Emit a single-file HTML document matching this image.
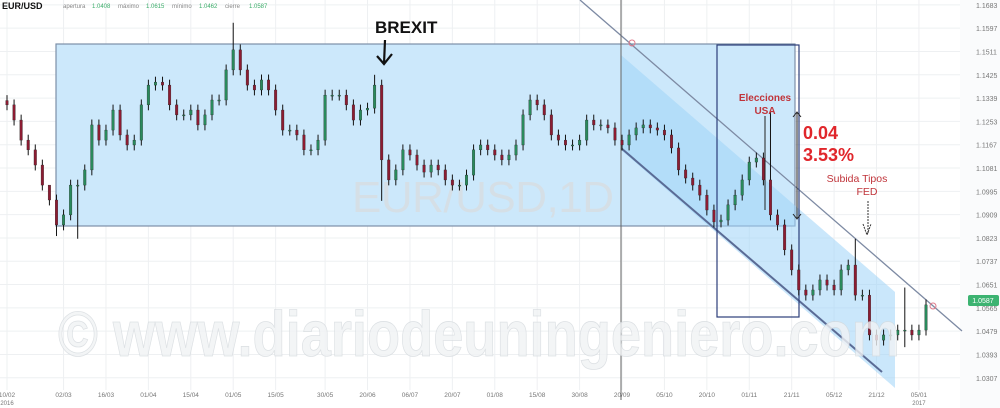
<!DOCTYPE html>
<html><head><meta charset="utf-8"><style>
body{margin:0;background:#fff;width:1000px;height:408px;overflow:hidden}
svg{display:block;font-family:"Liberation Sans",sans-serif}
</style></head><body>
<svg id="chart" width="1000" height="408" viewBox="0 0 1000 408">
  <rect x="960" y="0" width="40" height="408" fill="#fafbfc"/>
  <g id="grid"></g>
  <rect x="56" y="44" width="739" height="182" fill="#cce8fb" stroke="#7d8fa8" stroke-width="1.2"/>
  <polygon points="621,55 895,292 895,388 621,150" fill="#9fd3f7" opacity="0.55"/>
  <line x1="580" y1="0" x2="962" y2="331" stroke="#7d8aa3" stroke-width="1.3"/>
  <line x1="621" y1="148" x2="882" y2="372" stroke="#5a6b95" stroke-width="2"/>
  <circle cx="632" cy="43" r="3" fill="none" stroke="#e07a8a"/>
  <circle cx="933" cy="306" r="3" fill="none" stroke="#e07a8a"/>
  <line x1="621" y1="0" x2="621" y2="400" stroke="#666" stroke-width="1"/>
  <rect x="717" y="45" width="82" height="272" fill="none" stroke="#2c3e7a" stroke-width="1.2"/>
  <text x="352" y="212" font-size="44" fill="#d8dde2" opacity="0.8" textLength="262">EUR/USD,1D</text>
  <g id="candles"></g>
  <text x="58" y="356" font-size="64" font-weight="bold" fill="#f1f3f5" opacity="0.8" stroke="#d5dade" stroke-width="0.8" textLength="842" lengthAdjust="spacingAndGlyphs">© www.diariodeuningeniero.com</text>
  <text x="375" y="33" font-size="17" font-weight="bold" fill="#111">BREXIT</text>
  <path d="M385 40 L384 64 M377 56 L384 64 L392 54" stroke="#111" stroke-width="2.2" fill="none"/>
  <text x="765" y="101" font-size="10" font-weight="bold" fill="#c0343a" text-anchor="middle">Elecciones</text>
  <text x="765" y="114" font-size="10" font-weight="bold" fill="#c0343a" text-anchor="middle">USA</text>
  <line x1="765" y1="116" x2="765" y2="210" stroke="#222" stroke-width="1"/>
  <path d="M797 113 L797 218 M793 117 L797 112 L801 117 M793 214 L797 219 L801 214" stroke="#222" fill="none"/>
  <text x="803" y="139" font-size="18" font-weight="bold" fill="#e0262b">0.04</text>
  <text x="803" y="161" font-size="18" font-weight="bold" fill="#e0262b">3.53%</text>
  <text x="857" y="182" font-size="10.5" fill="#c0343a" text-anchor="middle">Subida Tipos</text>
  <text x="867" y="195" font-size="10.5" fill="#c0343a" text-anchor="middle">FED</text>
  <path d="M868 201 L868 234 M863 224 L867 235 L871 224" stroke="#333" fill="none" stroke-dasharray="2,1"/>
  <text x="2" y="9" font-size="9" font-weight="bold" fill="#111">EUR/USD</text>
  <g font-size="6">
    <text x="63" y="8" fill="#888">apertura</text><text x="92" y="8" fill="#3cae6a">1.0408</text>
    <text x="118" y="8" fill="#888">máximo</text><text x="146" y="8" fill="#3cae6a">1.0615</text>
    <text x="172" y="8" fill="#888">mínimo</text><text x="199" y="8" fill="#3cae6a">1.0462</text>
    <text x="225" y="8" fill="#888">cierre</text><text x="249" y="8" fill="#3cae6a">1.0587</text>
  </g>
  <g id="yaxis"></g>
  <g id="xaxis"></g>
  <rect x="968" y="295" width="31" height="11" rx="2" fill="#3cb371"/>
  <text x="983" y="303" font-size="7" fill="#fff" text-anchor="middle">1.0587</text>
</svg>
<script>
const priceTicks = [1.1683,1.1597,1.1511,1.1425,1.1339,1.1253,1.1167,1.1081,1.0995,1.0909,1.0823,1.0737,1.0651,1.0565,1.0479,1.0393,1.0307];
const dateLabels = ["10/02","02/03","16/03","01/04","15/04","01/05","15/05","30/05","20/06","06/07","20/07","01/08","15/08","30/08","20/09","05/10","20/10","01/11","21/11","05/12","21/12","05/01"];
const dateLabelIndex = [0,8,14,20,26,32,38,45,51,57,63,69,75,81,87,93,99,105,111,117,123,129];
const firstOpen = 1.1330;
const closes = [1.1314,1.1258,1.1184,1.1148,1.1092,1.1018,1.0963,1.0871,1.0908,1.1018,1.1018,1.1074,1.1240,1.1184,1.1221,1.1295,1.1203,1.1166,1.1184,1.1314,1.1387,1.1398,1.1387,1.1314,1.1277,1.1277,1.1295,1.1240,1.1277,1.1332,1.1332,1.1443,1.1517,1.1443,1.1387,1.1369,1.1406,1.1369,1.1295,1.1221,1.1221,1.1203,1.1148,1.1148,1.1184,1.1350,1.1350,1.1350,1.1314,1.1258,1.1295,1.1302,1.1387,1.1111,1.1037,1.1074,1.1148,1.1129,1.1092,1.1066,1.1092,1.1074,1.1037,1.1018,1.1018,1.1055,1.1148,1.1166,1.1148,1.1129,1.1111,1.1129,1.1166,1.1277,1.1332,1.1314,1.1277,1.1203,1.1184,1.1166,1.1166,1.1184,1.1258,1.1240,1.1240,1.1229,1.1184,1.1166,1.1203,1.1229,1.1240,1.1229,1.1221,1.1203,1.1155,1.1074,1.1044,1.1018,1.0981,1.0926,1.0882,1.0889,1.0945,1.0981,1.1037,1.1103,1.1118,1.1037,1.0908,1.0871,1.0779,1.0705,1.0631,1.0612,1.0631,1.0668,1.0649,1.0631,1.0705,1.0723,1.0612,1.0612,1.0465,1.0446,1.0465,1.0465,1.0483,1.0483,1.0465,1.0483,1.0576];
const wickHighs = {6:1.0985,32:1.1617,52:1.1425,108:1.1295,120:1.0820,127:1.0640};
const wickLows = {7:1.0830,10:1.0820,53:1.0960,127:1.0420};

const NS="http://www.w3.org/2000/svg";
const y=p=>(1.1701-p)/0.000369;
const x=i=>7+i*(926-7)/(closes.length-1);
function mk(tag,attrs,parent){const e=document.createElementNS(NS,tag);for(const k in attrs)e.setAttribute(k,attrs[k]);parent.appendChild(e);return e;}
const grid=document.getElementById('grid'),ya=document.getElementById('yaxis'),xa=document.getElementById('xaxis'),cg=document.getElementById('candles');
priceTicks.forEach(p=>{
  const l=mk('line',{x1:0,x2:960,y1:y(p),y2:y(p),stroke:'#eef0f2'},grid);
  
  
  const t=mk('text',{x:976,y:y(p)+3,'font-size':7,fill:'#777'},ya);t.textContent=p.toFixed(4);
  
  
});
dateLabels.forEach((d,k)=>{
  const xx=x(dateLabelIndex[k]);
  const l=mk('line',{x1:xx,x2:xx,y1:0,y2:390,stroke:'#eef0f2'},grid);
  
  
  const t=mk('text',{x:xx,y:397,'font-size':6.5,fill:'#777','text-anchor':'middle'},xa);t.textContent=d;
  
  
});
[[0,'2016'],[129,'2017']].forEach(([i,s])=>{const t=mk('text',{x:x(i),y:405,'font-size':6,fill:'#777','text-anchor':'middle'},xa);t.textContent=s;
  
  });
let prev=firstOpen;
closes.forEach((c,i)=>{
  const o=prev; prev=c;
  const hi=(wickHighs[i]!==undefined)?wickHighs[i]:Math.max(o,c)+0.002;
  const lo=(wickLows[i]!==undefined)?wickLows[i]:Math.min(o,c)-0.002;
  const xx=x(i);
  const w=mk('line',{x1:xx,x2:xx,y1:y(hi),y2:y(lo),stroke:'#111','stroke-width':1},cg);
  
  
  const top=y(Math.max(o,c)),bot=y(Math.min(o,c));
  const b=mk('rect',{x:xx-1.3,y:top,width:2.6,height:Math.max(1,bot-top),fill:c>=o?'#2a8a5c':'#8c1c32',stroke:'#222','stroke-width':0.3},cg);
  
  
});
</script>
</body></html>
